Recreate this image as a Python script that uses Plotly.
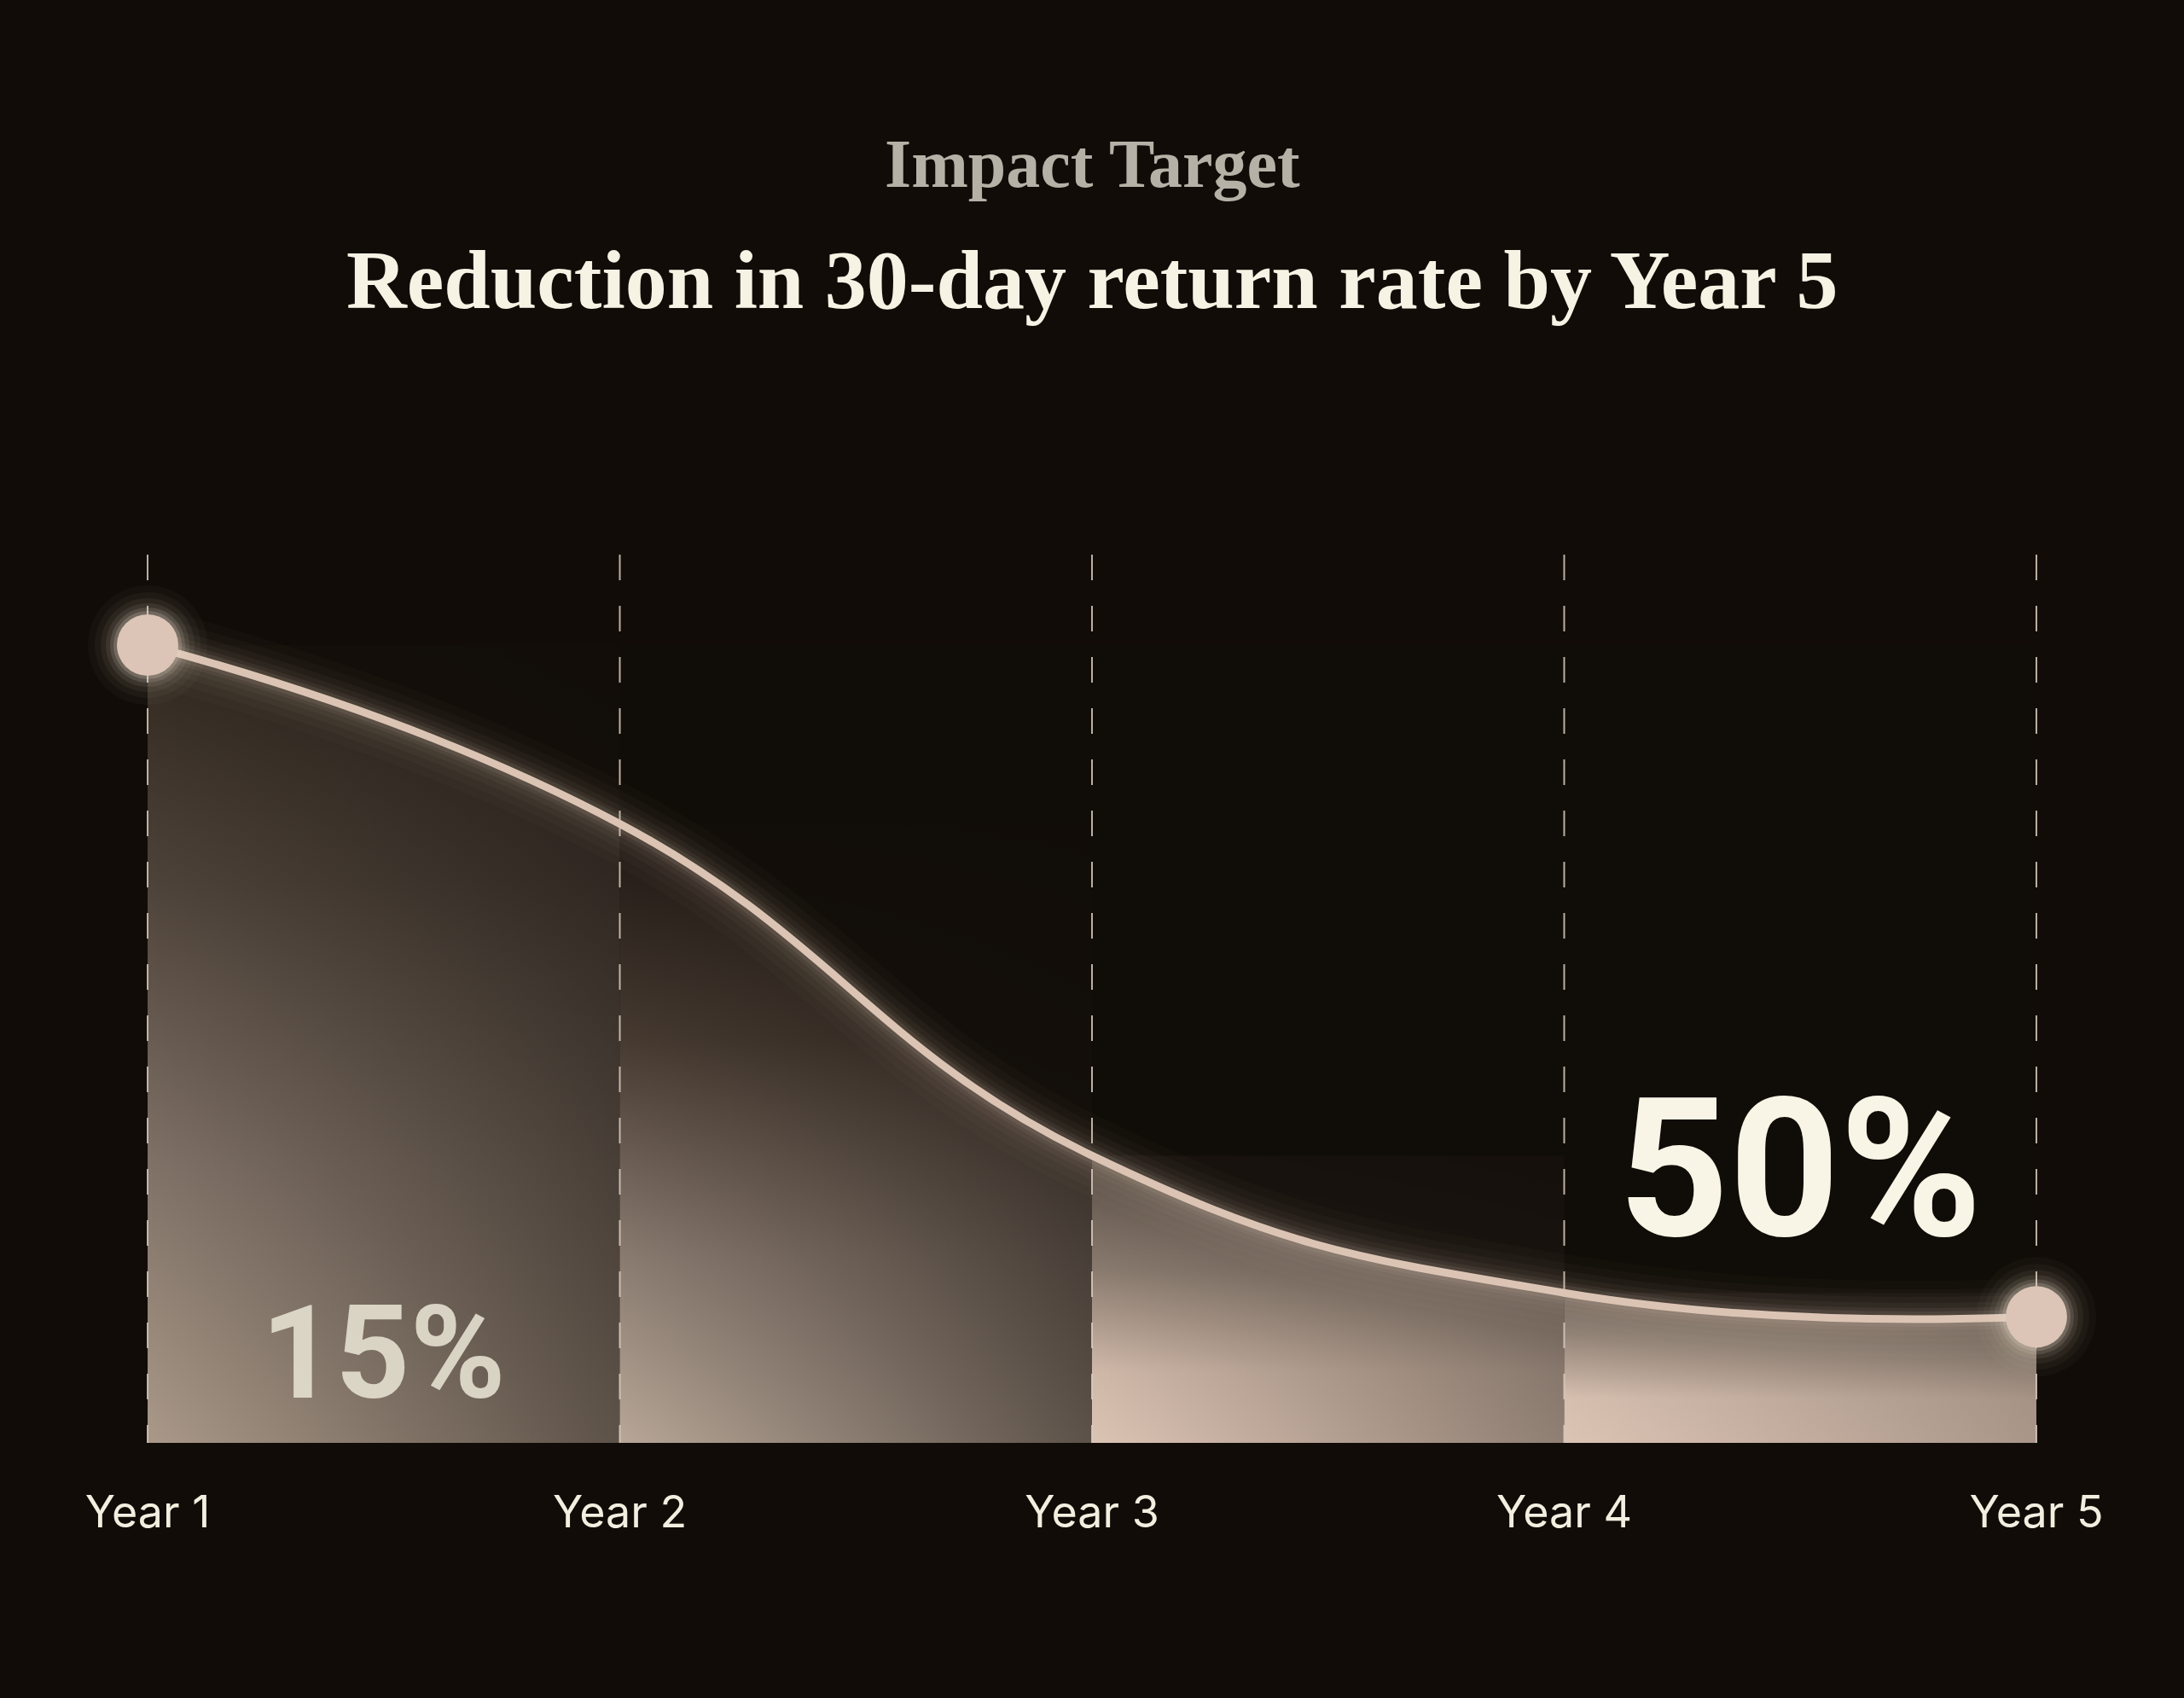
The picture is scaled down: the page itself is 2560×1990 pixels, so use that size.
import plotly.graph_objects as go

# ---------------- data ----------------
years = ["Year 1", "Year 2", "Year 3", "Year 4", "Year 5"]
return_index = [100.0, 77.6, 36.0, 18.8, 15.8]   # relative 30-day return rate (Year 1 = 100)
start_label = "15%"
target_label = "50%"
kicker = "Impact Target"
title = "Reduction in 30-day return rate by Year 5"

# ---------------- style ----------------
W, H = 2560, 1990
BG = "#110c08"
LINE = "#dcc4b4"
M_L, M_R, M_T, M_B = 0, 0, 650, 299
PLOT_H = H - M_T - M_B
YTOP = return_index[0] * PLOT_H / 935.0
XR = [-0.3126, 4.3126]
SMOOTH = 1.3

def py_to_y(py):
    return (H - M_B - py) / PLOT_H * YTOP

def py_to_paper(py):
    return (H - M_B - py) / PLOT_H

idx = list(range(len(years)))
fig = go.Figure()

# segment bars (height = value at segment start) with gradients
bar_scales = [
    [[0, "#aa9989"], [0.35, "#7f7166"], [0.7, "#4e433a"], [1, "#30271f"]],
    [[0, "#b8a798"], [0.3, "#8a7b70"], [0.65, "#463a31"], [1, "#1e1712"]],
    [[0, "#dcc4b4"], [0.25, "#cfb8a8"], [0.6, "#8a7b6f"], [1, "#574c43"]],
    [[0, "#dcc4b4"], [0.3, "#d6bfaf"], [0.75, "#8e7f73"], [1, "#6b5f56"]],
]
side_dark = [0.5, 0.55, 0.38, 0.25]
for i in range(len(years) - 1):
    xs = [idx[i], idx[i + 1], idx[i + 1], idx[i], idx[i]]
    ys = [0, 0, return_index[i], return_index[i], 0]
    fig.add_trace(go.Scatter(
        x=xs, y=ys, mode="lines", line=dict(width=0), fill="toself",
        fillgradient=dict(type="vertical", colorscale=bar_scales[i]),
        hoverinfo="skip", showlegend=False))
    fig.add_trace(go.Scatter(
        x=xs, y=ys, mode="lines", line=dict(width=0), fill="toself",
        fillgradient=dict(type="horizontal",
                          colorscale=[[0, "rgba(17,12,8,0)"],
                                      [1, "rgba(17,12,8,%.2f)" % side_dark[i]]]),
        hoverinfo="skip", showlegend=False))

# darken above the curve
fig.add_trace(go.Scatter(x=idx, y=[return_index[0]] * len(idx), mode="lines",
                         line=dict(width=0), hoverinfo="skip", showlegend=False))
fig.add_trace(go.Scatter(x=idx, y=return_index, mode="lines",
                         line=dict(width=0, shape="spline", smoothing=SMOOTH),
                         fill="tonexty", fillcolor="rgba(17,12,8,0.9)",
                         hoverinfo="skip", showlegend=False))

# dashed year guides
gx, gy = [], []
for i in idx:
    gx += [i, i, None]
    gy += [YTOP, 0, None]
fig.add_trace(go.Scatter(x=gx, y=gy, mode="lines",
                         line=dict(color="rgba(218,204,190,0.85)", width=2, dash="30px,30px"),
                         hoverinfo="skip", showlegend=False))

# glow + curve
for w, a in [(90, 0.025), (70, 0.03), (52, 0.04), (38, 0.05), (26, 0.07), (18, 0.1)]:
    fig.add_trace(go.Scatter(x=idx, y=return_index, mode="lines",
                             line=dict(color="rgba(220,196,180,%.3f)" % a, width=w,
                                       shape="spline", smoothing=SMOOTH),
                             hoverinfo="skip", showlegend=False))
fig.add_trace(go.Scatter(x=idx, y=return_index, mode="lines",
                         line=dict(color=LINE, width=9, shape="spline", smoothing=SMOOTH),
                         hoverinfo="skip", showlegend=False))

# end markers with glow
ex = [idx[0], idx[-1]]
ey = [return_index[0], return_index[-1]]
for s, a in [(140, 0.03), (124, 0.04), (110, 0.06), (98, 0.09), (88, 0.14), (80, 0.2)]:
    fig.add_trace(go.Scatter(x=ex, y=ey, mode="markers",
                             marker=dict(size=s, color="rgba(235,218,205,%.2f)" % a, line=dict(width=0)),
                             cliponaxis=False, hoverinfo="skip", showlegend=False))
fig.add_trace(go.Scatter(x=ex, y=ey, mode="markers",
                         marker=dict(size=72, color="#dcc5b6", line=dict(width=0)),
                         cliponaxis=False, hoverinfo="skip", showlegend=False))

annotations = [
    dict(text="<b>%s</b>" % kicker, x=0.5, y=py_to_paper(192), xref="paper", yref="paper",
         xanchor="center", yanchor="middle", showarrow=False,
         font=dict(family="Liberation Serif", size=80, color="#b5b1a6")),
    dict(text="<b>%s</b>" % title, x=0.5, y=py_to_paper(328), xref="paper", yref="paper",
         xanchor="center", yanchor="middle", showarrow=False,
         font=dict(family="Liberation Serif", size=98, color="#f7f3e4")),
    dict(text="<b>%s</b>" % start_label, x=(idx[0] + idx[1]) / 2, y=py_to_y(1586),
         xref="x", yref="y", xanchor="center", yanchor="middle", showarrow=False,
         font=dict(family="Roboto", size=152, color="rgba(226,221,205,0.92)")),
    dict(text="<b>%s</b>" % target_label, x=(idx[3] + idx[4]) / 2, y=py_to_y(1370),
         xref="x", yref="y", xanchor="center", yanchor="middle", showarrow=False,
         font=dict(family="Roboto", size=226, color="#f8f5e6")),
]

fig.update_layout(
    width=W, height=H,
    paper_bgcolor=BG, plot_bgcolor=BG,
    margin=dict(l=M_L, r=M_R, t=M_T, b=M_B, pad=0),
    annotations=annotations,
    showlegend=False,
    xaxis=dict(range=XR, tickvals=idx, ticktext=years, showgrid=False, zeroline=False,
               showline=False, ticks="", ticklabelstandoff=46,
               tickfont=dict(family="Inter", size=52, color="#f3efe0"), fixedrange=True),
    yaxis=dict(range=[0, YTOP], showgrid=False, zeroline=False, showline=False,
               showticklabels=False, ticks="", fixedrange=True),
)

fig.write_html("out.html")
